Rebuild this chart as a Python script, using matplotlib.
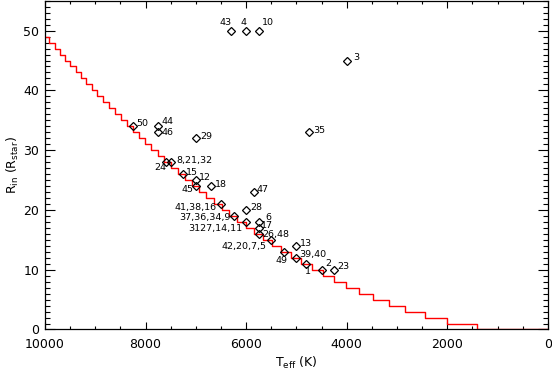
import matplotlib
matplotlib.use("Agg")
import matplotlib.pyplot as plt
from matplotlib.ticker import MultipleLocator

# red staircase: T boundaries where R_in drops by one (K) and the level held
step_T = [10000, 9912, 9810, 9708, 9604, 9499, 9393, 9285, 9177, 9067, 8956,
          8843, 8729, 8613, 8496, 8377, 8257, 8134, 8010, 7884, 7756,
          7625, 7493, 7358, 7220, 7080, 6937, 6791, 6642, 6489, 6333,
          6172, 6008, 5838, 5664, 5484, 5298, 5106, 4905, 4696, 4478,
          4248, 4005, 3746, 3469, 3166, 2832, 2453, 2003, 1416, 0]
step_R = [49, 48, 47, 46, 45, 44, 43, 42, 41, 40, 39,
          38, 37, 36, 35, 34, 33, 32, 31, 30, 29,
          28, 27, 26, 25, 24, 23, 22, 21, 20, 19,
          18, 17, 16, 15, 14, 13, 12, 11, 10, 9,
          8, 7, 6, 5, 4, 3, 2, 1, 0, 0]

# stars
labels = ["43", "4", "10", "3", "35", "50", "44", "46", "29", "8,21,32",
          "24", "15", "12", "45", "18", "47", "41,38,16", "28", "37,36,34,9",
          "3127,14,11", "6", "17", "26,48", "42,20,7,5", "13", "49", "39,40",
          "1", "2", "23"]
teff = [6300, 6000, 5750, 4000, 4750, 8250, 7750, 7750, 7000, 7500,
        7600, 7250, 7000, 7000, 6700, 5850, 6500, 6000, 6250,
        6000, 5750, 5750, 5750, 5500, 5000, 5250, 5000,
        4800, 4500, 4250]
rin = [50, 50, 50, 45, 33, 34, 34, 33, 32, 28,
       28, 26, 25, 24, 24, 23, 21, 20, 19,
       18, 18, 17, 16, 15, 14, 13, 12,
       11, 10, 10]

# where each label sits relative to its diamond (pixels, alignment)
lab_pos = {
    "43": (-5, 8, "center"), "4": (-3, 8, "center"), "10": (9, 8, "center"),
    "3": (7, 3, "left"), "35": (4, 2, "left"), "50": (3, 3, "left"),
    "44": (3, 5, "left"), "46": (3, 0, "left"), "29": (4, 2, "left"),
    "8,21,32": (6, 2, "left"), "24": (1, -5, "right"), "15": (3, 2, "left"),
    "12": (3, 3, "left"), "45": (-2, -3, "right"), "18": (4, 2, "left"),
    "47": (3, 3, "left"), "41,38,16": (-4, -4, "right"), "28": (4, 2, "left"),
    "37,36,34,9": (-3, -2, "right"), "3127,14,11": (-4, -7, "right"),
    "6": (7, 4, "left"), "17": (2, 2, "left"), "26,48": (4, -1, "left"),
    "42,20,7,5": (-5, -7, "right"), "13": (3, 2, "left"),
    "49": (-2, -9, "center"), "39,40": (3, 3, "left"), "1": (1, -8, "center"),
    "2": (4, 6, "left"), "23": (3, 3, "left"),
}

plt.rcParams['font.family'] = ['DejaVu Sans']
fig = plt.figure(figsize=(5.52, 3.74), dpi=100)
ax = fig.add_axes([0.0815, 0.119, 0.911, 0.879])

ax.plot(step_T, step_R, drawstyle='steps-post', color='red', lw=1.0, zorder=2)
ax.plot(teff, rin, linestyle='none', marker='D', ms=3.6, mfc='none',
        mec='black', mew=0.9, zorder=3)

for lab, t, r in zip(labels, teff, rin):
    dx, dy, ha = lab_pos[lab]
    ax.annotate(lab, (t, r), xytext=(dx, dy), textcoords='offset pixels',
                ha=ha, va='center', fontsize=6.8, color='black')

ax.set_xlim(10000, 0)
ax.set_ylim(0, 55)
ax.xaxis.set_major_locator(MultipleLocator(2000))
ax.xaxis.set_minor_locator(MultipleLocator(500))
ax.yaxis.set_major_locator(MultipleLocator(10))
ax.yaxis.set_minor_locator(MultipleLocator(1))
ax.tick_params(which='both', direction='in', top=True, right=True,
               labelsize=9, width=0.8, color='black')
ax.tick_params(axis='x', which='major', length=4.7, pad=6)
ax.tick_params(axis='x', which='minor', length=2.4)
ax.tick_params(axis='y', which='major', length=7.2, pad=4)
ax.tick_params(axis='y', which='minor', length=3.6)
for s in ax.spines.values():
    s.set_linewidth(0.9)

ax.set_xlabel(r'T$_{\rm eff}$ (K)', fontsize=9, labelpad=3)
ax.set_ylabel(r'R$_{\rm in}$ (R$_{\rm star}$)', fontsize=9, labelpad=2)

fig.savefig('out.png', dpi=100)
